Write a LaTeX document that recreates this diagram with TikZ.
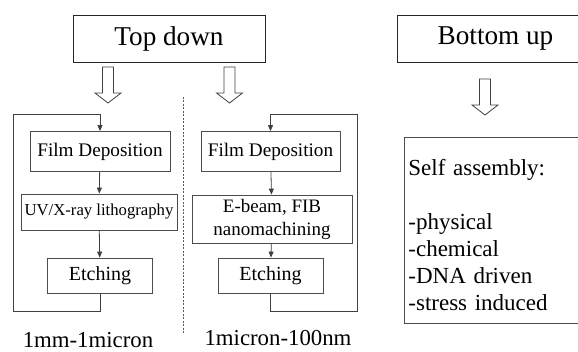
\documentclass[tikz,border=0pt]{standalone}
\usepackage{fontspec}
\setmainfont{Liberation Serif}
\usetikzlibrary{arrows.meta}

\tikzset{
  headbox/.style={draw=black!85, line width=0.8pt, minimum height=47pt, font=\fontsize{27.2}{31}\selectfont},
  stepbox/.style={draw=black!70, line width=0.8pt, inner sep=0pt, align=center, font=\fontsize{19.2}{22}\selectfont},
  flow/.style={-{Triangle[length=6pt,width=5pt]}, draw=black!75, line width=0.8pt},
  sizelabel/.style={anchor=base, font=\fontsize{22.8}{26}\selectfont}
}

\begin{document}
\begin{tikzpicture}[x=1pt, y=-1pt]
  \useasboundingbox (0,0) rectangle (578,352);
  \clip (0,0) rectangle (578,352);

  %% Headings
  \node[headbox, minimum width=192pt] (topdown) at (169,38.5) {Top down};
  \node[headbox, minimum width=197pt] (bottomup) at (495.5,38.5) {Bottom up};

  % Hollow arrows under the headings
  \foreach \cx/\ty in {108/67, 229.5/67, 485/79}
    \draw[black!75, line width=0.8pt]
      (\cx-5.5,\ty) -- (\cx+5.5,\ty) -- (\cx+5.5,\ty+26) -- (\cx+13,\ty+26)
      -- (\cx,\ty+36) -- (\cx-13,\ty+26) -- (\cx-5.5,\ty+26) -- cycle;

  %% Left column: 1mm-1micron
  \node[stepbox, minimum width=140pt, minimum height=40pt] (film1) at (100,151.5) {Film Deposition};
  \node[stepbox, minimum width=156pt, minimum height=36pt, font=\fontsize{16.7}{20}\selectfont] (litho) at (99,212) {UV/X-ray lithography};
  \node[stepbox, minimum width=105pt, minimum height=35pt, font=\fontsize{20}{22}\selectfont] (etch1) at (100,275.5) {Etching};
  \coordinate (lbot) at (13,311);
  \coordinate (ltop) at (13,114);

  \draw[flow] (film1) -- (litho);
  \draw[flow] (litho) -- (etch1);
  \draw[flow] (etch1.south) |- (lbot) -- (ltop) -| (film1.north);

  % Separator
  \draw[black!65, line width=0.6pt, dash pattern=on 2pt off 1.5pt] (183,97) -- (183,333);

  %% Right column: 1micron-100nm
  \node[stepbox, minimum width=139pt, minimum height=40pt] (film2) at (270.5,151.5) {Film Deposition};
  \node[stepbox, minimum width=160pt, minimum height=48pt, font=\fontsize{19}{23}\selectfont] (mach) at (272,219) {E-beam, FIB\\nanomachining};
  \node[stepbox, minimum width=105pt, minimum height=35pt, font=\fontsize{20}{22}\selectfont] (etch2) at (270.5,275.5) {Etching};
  \coordinate (rbot) at (357,311);
  \coordinate (rtop) at (357,114);

  \draw[flow] (film2) -- (mach);
  \draw[flow] (mach) -- (etch2);
  \draw[flow] (etch2.south) |- (rbot) -- (rtop) -| (film2.north);

  % Size ranges
  \node[sizelabel] (range1) at (88,348) {1mm-1micron};
  \node[sizelabel] (range2) at (278,345) {1micron-100nm};

  %% Bottom up: self assembly
  \node[draw=black!70, line width=0.8pt, anchor=north west, minimum height=186pt,
        text width=176pt, inner xsep=4pt, align=left,
        font=\fontsize{23}{27}\selectfont] (selfasm) at (404,137)
    {\rule{0pt}{25pt}Self assembly:\\[27pt]-physical\\-chemical\\-DNA driven\\-stress induced};
\end{tikzpicture}
\end{document}
